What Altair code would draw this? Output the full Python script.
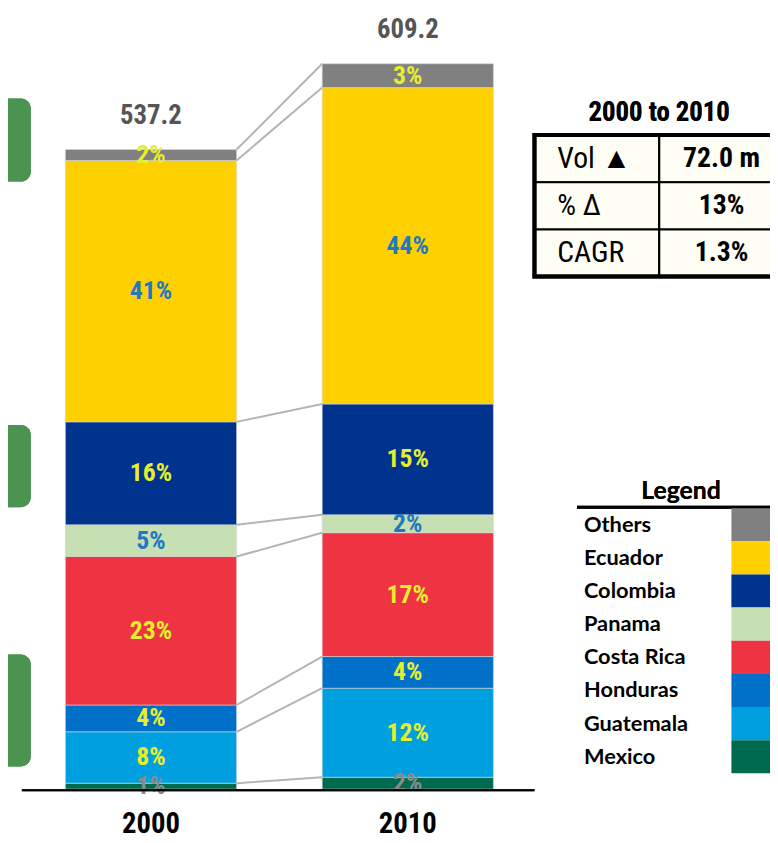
import altair as alt
import pandas as pd

# ---------------- data ----------------
years = ["2000", "2010"]
totals = [537.2, 609.2]
total_labels = ["537.2", "609.2"]
# stacked bottom -> top
countries = ["Mexico", "Guatemala", "Honduras", "Costa Rica", "Panama", "Colombia", "Ecuador", "Others"]
vol_2000 = [5.0, 43.2, 22.5, 124.7, 26.6, 86.5, 219.5, 9.2]
vol_2010 = [10.0, 74.8, 26.6, 104.0, 15.0, 93.1, 265.7, 20.0]
pct_2000 = ["1%", "8%", "4%", "23%", "5%", "16%", "41%", "2%"]
pct_2010 = ["2%", "12%", "4%", "17%", "2%", "15%", "44%", "3%"]
palette = ["#006A4E", "#00A0E0", "#0070C8", "#EE3342", "#C6E0B4", "#00338D", "#FFD000", "#808080"]

table_title = "2000 to 2010"
table_rows = ["Vol \u25B2", "% \u0394", "CAGR"]
table_vals = ["72.0 m", "13%", "1.3%"]
legend_title = "Legend"

# ---------------- tables ----------------
HALF = 1 / 3  # half bar width, in year-steps
rows = []
tops = {}
for i, (yr, vols, pcts) in enumerate(zip(years, [vol_2000, vol_2010], [pct_2000, pct_2010])):
    cum = 0.0
    for j, (c, v, p) in enumerate(zip(countries, vols, pcts)):
        rows.append(dict(year=yr, idx=i, country=c, order=j, value=v,
                         y0=cum, y1=cum + v, mid=cum + v / 2, label=p,
                         x0=i - HALF, x1=i + HALF))
        cum += v
        tops[(i, c)] = cum
bars = pd.DataFrame(rows)

links = pd.DataFrame([dict(country=c, xa=0 + HALF, xb=1 - HALF,
                           ya=tops[(0, c)], yb=tops[(1, c)]) for c in countries])
tot_df = pd.DataFrame(dict(idx=[0, 1], total=totals, label=total_labels, year=years))
tab_df = pd.DataFrame(dict(row=table_rows, val=table_vals))
leg_df = pd.DataFrame(dict(country=countries[::-1]))

NARROW = "Roboto Condensed, Liberation Sans Narrow, Roboto, sans-serif"
LEGF = "Lato, Open Sans, sans-serif"

X = alt.Scale(domain=[0, 1], range=[144.5, 404], nice=False, zero=False)
Y = alt.Scale(domain=[0, max(totals)], range=[785, 52], nice=False, zero=True)
colscale = alt.Scale(domain=countries, range=palette)
TROW = alt.Scale(domain=table_rows, range=[124, 267], paddingInner=0, paddingOuter=0)
LROW = alt.Scale(domain=countries[::-1], range=[501, 769], paddingInner=0, paddingOuter=0)

# ---------------- layers ----------------
def gbox(y0, y1):
    return alt.Chart(tot_df).mark_rect(color="#4A9350", cornerRadius=10).encode(
        x=alt.value(-20), x2=alt.value(23), y=alt.value(y0), y2=alt.value(y1))

boxes = [gbox(87, 171), gbox(417, 500), gbox(649, 762)]

bar_layer = alt.Chart(bars).mark_rect(stroke="#d4d4d4", strokeWidth=0.6).encode(
    x=alt.X("x0:Q", scale=X, axis=None), x2="x1:Q",
    y=alt.Y("y0:Q", scale=Y, axis=None), y2="y1:Q",
    color=alt.Color("country:N", scale=colscale, legend=None),
)

link_layer = alt.Chart(links).mark_rule(color="#b4b4b4", strokeWidth=2).encode(
    x=alt.X("xa:Q", scale=X, axis=None), x2="xb:Q",
    y=alt.Y("ya:Q", scale=Y, axis=None), y2="yb:Q",
)

label_color = (
    alt.when(alt.datum.country == "Mexico").then(alt.value("#8a8a8a"))
    .when((alt.datum.country == "Ecuador") | (alt.datum.country == "Panama")).then(alt.value("#1F78C0"))
    .otherwise(alt.value("#E6EF2E"))
)
seg_labels = alt.Chart(bars).mark_text(font=NARROW, fontSize=26, fontWeight="bold", baseline="middle").encode(
    x=alt.X("idx:Q", scale=X, axis=None),
    y=alt.Y("mid:Q", scale=Y, axis=None),
    text="label:N",
    color=label_color,
)

tot_labels = alt.Chart(tot_df).mark_text(font=NARROW, fontSize=27, fontWeight="bold", color="#555555",
                                         baseline="middle", dy=-34).encode(
    x=alt.X("idx:Q", scale=X, axis=None),
    y=alt.Y("total:Q", scale=Y, axis=None),
    text="label:N",
)

axis_line = alt.Chart(tot_df).mark_rule(color="black", strokeWidth=2).encode(
    x=alt.value(14), x2=alt.value(532), y=alt.value(786))

year_labels = alt.Chart(tot_df).mark_text(font=NARROW, fontSize=29, fontWeight="bold", color="black",
                                          baseline="middle").encode(
    x=alt.X("idx:Q", scale=X, axis=None),
    y=alt.value(820),
    text="year:N",
)

# table
t_title = alt.Chart(tot_df).mark_text(font=NARROW, fontSize=27, fontWeight="bold", color="black",
                                      baseline="middle").encode(
    x=alt.value(658), y=alt.value(102), text=alt.value(table_title))
t_cells = alt.Chart(tab_df).mark_rect(fill="#FEFEF4", stroke="black", strokeWidth=2).encode(
    x=alt.value(532), x2=alt.value(800),
    y=alt.Y("row:N", scale=TROW, axis=None, sort=table_rows),
)
t_div = alt.Chart(tot_df).mark_rule(color="black", strokeWidth=2).encode(
    x=alt.value(658), y=alt.value(124), y2=alt.value(267))
t_border = alt.Chart(tot_df).mark_rect(fillOpacity=0, stroke="black", strokeWidth=4).encode(
    x=alt.value(532), x2=alt.value(800), y=alt.value(124), y2=alt.value(267))
t_lab = alt.Chart(tab_df).mark_text(font=NARROW, fontSize=30, color="black", align="left",
                                    baseline="middle").encode(
    x=alt.value(555),
    y=alt.Y("row:N", scale=TROW, axis=None, sort=table_rows, bandPosition=0.5),
    text="row:N",
)
t_val = alt.Chart(tab_df).mark_text(font=NARROW, fontSize=28, fontWeight="bold", color="black",
                                    baseline="middle").encode(
    x=alt.value(721),
    y=alt.Y("row:N", scale=TROW, axis=None, sort=table_rows, bandPosition=0.5),
    text="val:N",
)

# legend
l_title = alt.Chart(tot_df).mark_text(font=LEGF, fontSize=25, fontWeight="bold", color="black",
                                      baseline="middle").encode(
    x=alt.value(680), y=alt.value(484), text=alt.value(legend_title))
l_rule = alt.Chart(tot_df).mark_rule(color="black", strokeWidth=3).encode(
    x=alt.value(575), x2=alt.value(800), y=alt.value(500))
l_sw = alt.Chart(leg_df).mark_rect().encode(
    x=alt.value(731), x2=alt.value(800),
    y=alt.Y("country:N", scale=LROW, axis=None, sort=countries[::-1]),
    color=alt.Color("country:N", scale=colscale, legend=None),
)
l_lab = alt.Chart(leg_df).mark_text(font=LEGF, fontSize=22, fontWeight="bold", color="black",
                                    align="left", baseline="middle").encode(
    x=alt.value(582),
    y=alt.Y("country:N", scale=LROW, axis=None, sort=countries[::-1], bandPosition=0.5),
    text="country:N",
)

chart = alt.layer(
    *boxes, bar_layer, link_layer, seg_labels, tot_labels, axis_line, year_labels,
    t_title, t_cells, t_div, t_border, t_lab, t_val,
    l_title, l_rule, l_sw, l_lab,
).resolve_scale(x="independent", y="independent").properties(
    width=770, height=835, padding=0,
    autosize=alt.AutoSizeParams(type="none"),
    background="white",
).configure_view(stroke=None)

chart.save("out.html", embed_options={"renderer": "svg", "actions": False})
